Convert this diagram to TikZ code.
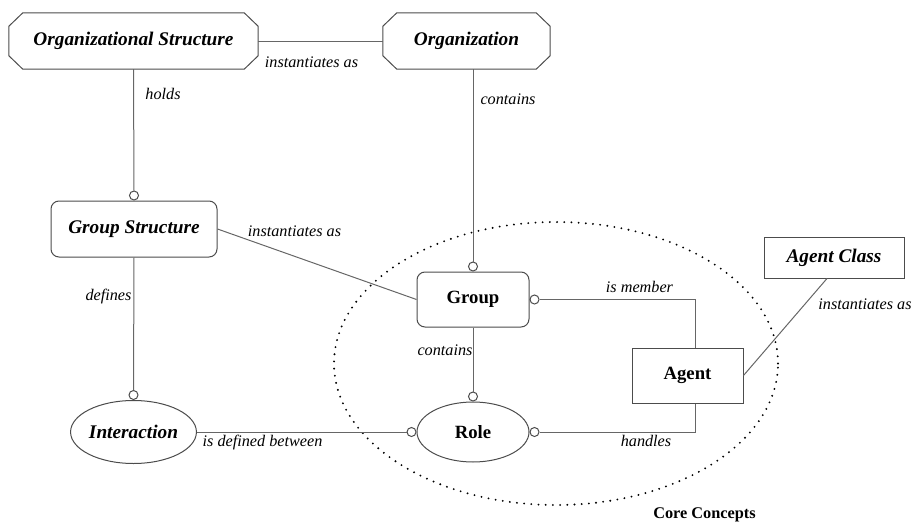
\documentclass[tikz,border=0pt]{standalone}
\usepackage{fontspec}
\setmainfont{Liberation Serif}
\usetikzlibrary{shapes.geometric}

\tikzset{
  conn/.style={draw=black!60, line width=1pt},
  frame/.style={draw=black!70, line width=1pt},
  bi/.style={font=\fontsize{19.3}{22}\selectfont\bfseries\itshape},
  bu/.style={font=\fontsize{18.7}{22}\selectfont\bfseries},
  lbl/.style={font=\fontsize{16.2}{19}\selectfont\itshape, inner sep=0pt},
  octobox/.style={draw=none, inner sep=0pt},
  roundbox/.style={frame, rectangle, rounded corners=8pt, fill=white, inner sep=0pt},
  plainbox/.style={frame, rectangle, fill=white, inner sep=0pt},
  ovalbox/.style={frame, ellipse, fill=white, inner sep=0pt},
  knob/.style={draw=black!70, line width=1pt, circle, fill=white, minimum size=9pt, inner sep=0pt},
  coreline/.style={draw=black, line width=2.1pt, line cap=round, dash pattern=on 0pt off 7.2pt}
}

\begin{document}
\begin{tikzpicture}[x=1pt,y=-1pt]
\useasboundingbox (0,0) rectangle (914,522);

% boundary of the core concepts
\draw[coreline] (556,363.5) ellipse [x radius=222pt, y radius=141.5pt];
\node[font=\fontsize{16.3}{19}\selectfont\bfseries, inner sep=0pt] (core) at (704.5,515) {Core Concepts};

% structural concepts
\node[octobox, bi, minimum width=249pt, minimum height=56pt] (os) at (133.5,41) {Organizational Structure};
\node[octobox, bi, minimum width=167pt, minimum height=56pt] (org) at (466.5,41) {Organization};
\foreach \n in {os,org}
  \draw[frame] ([xshift=14pt]\n.north west) -- ([xshift=-14pt]\n.north east)
    -- ([yshift=-13.5pt]\n.north east) -- ([yshift=13.5pt]\n.south east)
    -- ([xshift=-14pt]\n.south east) -- ([xshift=14pt]\n.south west)
    -- ([yshift=13.5pt]\n.south west) -- ([yshift=-13.5pt]\n.north west) -- cycle;

\node[roundbox, bi, minimum width=166pt, minimum height=56pt] (gs) at (134,229) {Group Structure};
\node[ovalbox, bi, minimum width=111pt, minimum height=63pt] (inter) at (133.5,432) {Interaction};
\node[plainbox, bi, minimum width=140pt, minimum height=41pt] (ac) at (834,257.5) {Agent Class};

% core concepts
\node[roundbox, bu, minimum width=112pt, minimum height=55pt] (grp) at (473,299.5) {Group};
\node[ovalbox, bu, minimum width=112pt, minimum height=60pt] (role) at (473,432) {Role};
\node[plainbox, bu, minimum width=111pt, minimum height=55pt] (agent) at (687.5,375.5) {Agent};

% connection knobs
\node[knob, anchor=south] (kgs) at (gs.north) {};
\node[knob, anchor=south] (kgrp) at (grp.north) {};
\node[knob, anchor=south] (kint) at (inter.north) {};
\node[knob, anchor=south] (krole) at (role.north) {};
\node[knob, anchor=east] (krolew) at (role.west) {};
\node[knob, anchor=west] (krolee) at (role.east) {};
\node[knob, anchor=west] (kgrpe) at (grp.east) {};

% relations
\draw[conn] (os.east) -- (org.west);
\draw[conn] (os.south) -- (kgs.north);
\draw[conn] (kgrp.north) -- (kgrp.north |- org.south);
\draw[conn] (gs.east) -- (grp.west);
\draw[conn] (gs.south) -- (kint.north);
\draw[conn] (inter.east) -- (krolew.west);
\draw[conn] (grp.south) -- (krole.north);
\draw[conn] (kgrpe.east) -| ([xshift=7.5pt]agent.north);
\draw[conn] (krolee.east) -| ([xshift=7.5pt]agent.south);
\draw[conn] ([xshift=-7pt]ac.south) -- (agent.east);

% relation names
\node[lbl] (l1) at (311.5,62) {instantiates as};
\node[lbl] (l2) at (163,93.5) {holds};
\node[lbl] (l3) at (508,99) {contains};
\node[lbl] (l4) at (294.5,231) {instantiates as};
\node[lbl] (l5) at (108.5,297) {defines};
\node[lbl] (l6) at (639.5,287) {is member};
\node[lbl] (l7) at (445,350) {contains};
\node[lbl] (l8) at (646,441) {handles};
\node[lbl] (l9) at (262.5,443) {is defined between};
\node[lbl] (l10) at (865,304) {instantiates as};
\end{tikzpicture}
\end{document}
